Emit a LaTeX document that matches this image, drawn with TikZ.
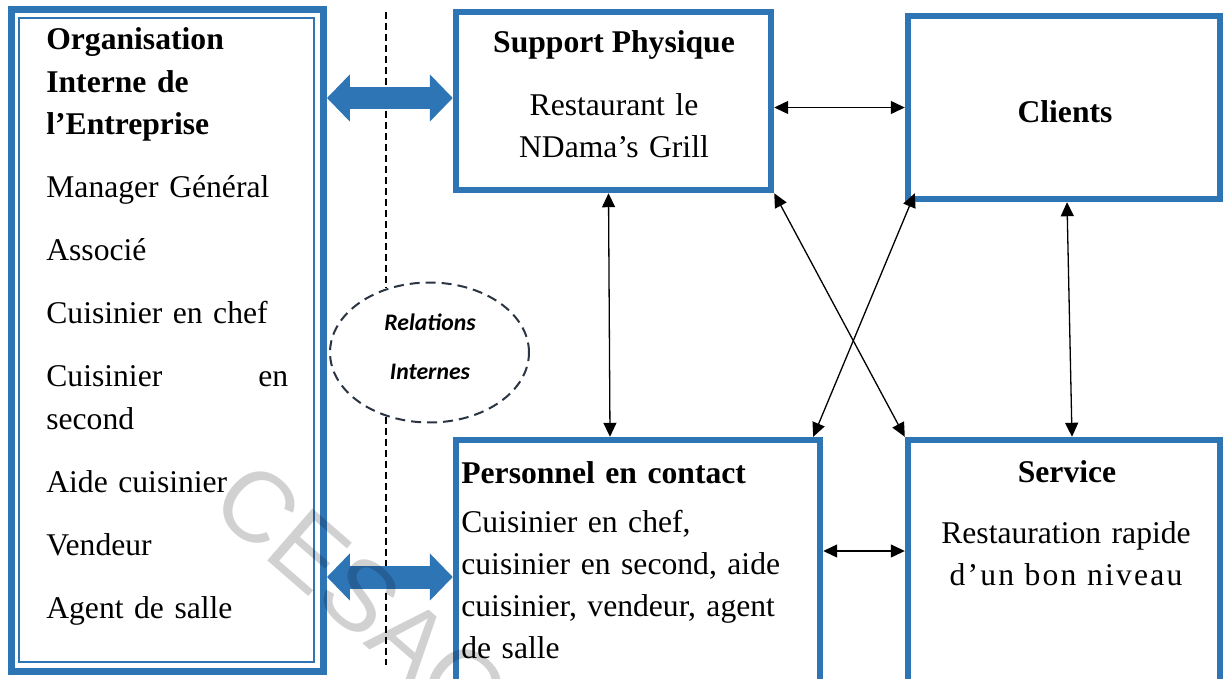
\documentclass[tikz,border=0pt]{standalone}
\usepackage{fontspec}
\setmainfont{Liberation Serif}
\newfontfamily\relfont{Carlito}
\newfontfamily\wmfont{Liberation Sans}
\usetikzlibrary{arrows.meta,shapes.geometric}
\definecolor{boxblue}{HTML}{2E75B6}
\definecolor{dashgray}{HTML}{2B3442}
\tikzset{
  bluebox/.style={draw=boxblue,line width=0.13cm,rectangle,inner sep=0pt},
  link/.style={{Triangle[length=0.28cm,width=0.26cm]}-{Triangle[length=0.28cm,width=0.26cm]},line width=0.026cm},
  fatlink/.style={{Triangle[length=0.46cm,width=0.92cm]}-{Triangle[length=0.46cm,width=0.92cm]},line width=0.46cm,boxblue},
  bodytext/.style={font=\fontsize{18}{24}\selectfont,inner sep=0pt},
  reltext/.style={font=\relfont\bfseries\itshape\fontsize{13.5}{16}\selectfont,inner sep=0pt,anchor=base},
  sepline/.style={dash pattern=on 0.14cm off 0.08cm,line width=0.028cm},
  wmark/.style={font=\wmfont\fontsize{57}{57}\selectfont,text=black,text opacity=0.18,rotate=-41}
}

\begin{document}
\begin{tikzpicture}[x=0.02cm,y=-0.02cm]
      \clip (0,0) rectangle (1223,679);
      \fill[white] (0,0) rectangle (1223,679);
      \node[bluebox,line width=0.14cm,minimum width=6.24cm,minimum height=13.24cm] (org) at (167.5,340.5) {};
      \draw[boxblue,line width=0.04cm] ([shift={(11,12)}]org.north west) rectangle ([shift={(-13,-13)}]org.south east);
      \node[bluebox,minimum width=6.3cm,minimum height=3.56cm] (sup) at (613.5,101) {};
      \node[bluebox,minimum width=6.24cm,minimum height=3.66cm] (cli) at (1064,107.5) {};
      \node[bluebox,minimum width=7.28cm,minimum height=5.6cm] (per) at (638,580) {};
      \node[bluebox,minimum width=6.24cm,minimum height=5.6cm] (ser) at (1064,580) {};
      \node[bodytext,text width=4.84cm,align=left,anchor=base west] (orgtxt) at (46,50)
        {\textbf{Organisation}\\ \textbf{Interne de}\\ \textbf{l’Entreprise}\\[0.42cm]
         Manager Général\\[0.42cm] Associé\\[0.42cm] Cuisinier en chef\\[0.42cm]
         Cuisinier\hfill en\\ second\\[0.42cm] Aide cuisinier\\[0.42cm] Vendeur\\[0.42cm] Agent de salle};
      \node[bodytext,anchor=base] (suptitle) at (614,53) {\textbf{Support Physique}};
      \node[bodytext,text width=6cm,align=center,anchor=base] (suptxt) at (614,115) {Restaurant le\\ NDama’s Grill};
      \node[bodytext,anchor=base] (clitxt) at (1065,122) {\textbf{Clients}};
      \node[bodytext,text width=7cm,align=left,anchor=base west] (pertxt) at (461,483)
        {\textbf{Personnel en contact}\\[0.14cm] Cuisinier en chef,\\ cuisinier en second, aide\\ cuisinier, vendeur, agent\\ de salle};
      \node[bodytext,anchor=base] (sertitle) at (1067,482) {\textbf{Service}};
      \node[bodytext,text width=6cm,align=center,anchor=base] (sertxt) at (1066,543)
        {Restauration rapide\\ {\addfontfeature{LetterSpace=7}d’un bon niveau}};
      \node[ellipse,draw=dashgray,dash pattern=on 0.2cm off 0.12cm,line width=0.04cm,minimum width=3.98cm,minimum height=2.8cm] (rel) at (429.5,352.5) {};
      \node[reltext] (rel1) at (430,330) {Relations};
      \node[reltext] (rel2) at (430,379) {Internes};
      \coordinate (septop) at (386,12);
      \coordinate (sepbot) at (386,665);
      \draw[sepline] (septop) -- (septop |- rel.124);
      \draw[sepline] (septop |- rel.236) -- (sepbot);
      \coordinate (fattop) at ([shift={(0,-3)}]sup.west);
      \coordinate (fatbot) at ([shift={(0,-3)}]per.west);
      \draw[fatlink] (org.east |- fattop) -- (fattop);
      \draw[fatlink] (org.east |- fatbot) -- (fatbot);
      \draw[link] (sup.east |- cli.west) -- (cli.west);
      \draw[link] ([shift={(-5,0)}]sup.south) -- ([shift={(-28,0)}]per.north);
      \draw[link] ([shift={(3,0)}]cli.south) -- ([shift={(8,0)}]ser.north);
      \draw[link] (sup.south east) -- (ser.north west);
      \draw[link] ([shift={(10,-9)}]cli.south west) -- ([shift={(-10,0)}]per.north east);
      \draw[link] ([shift={(0,-29)}]per.east) -- ([shift={(0,-29)}]ser.west);
      \node[wmark] (cesag) at (362,597) {CESAG};
\end{tikzpicture}
\end{document}
